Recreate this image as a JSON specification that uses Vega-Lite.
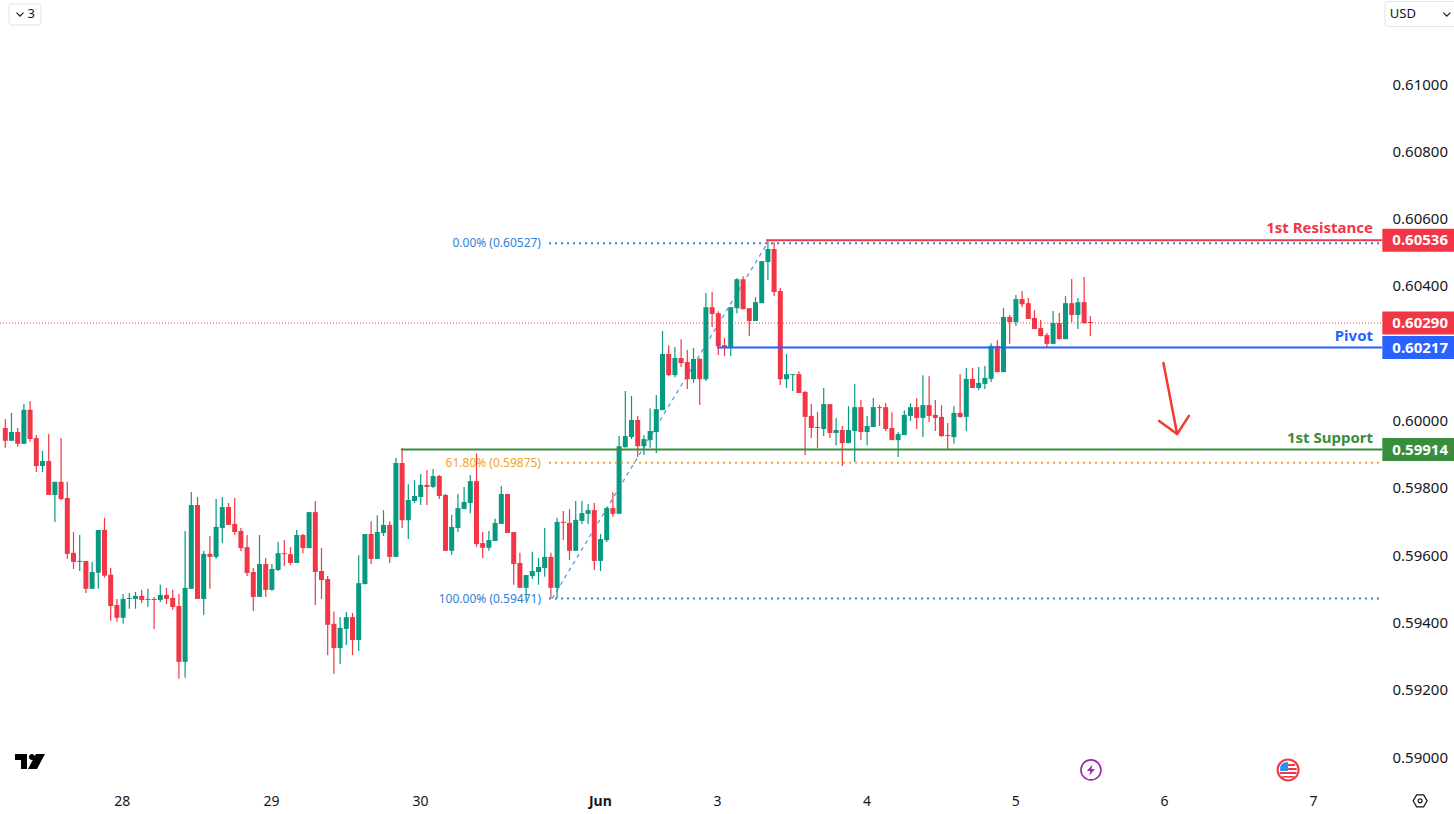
{
  "$schema": "https://vega.github.io/schema/vega-lite/v6.json",
  "width": 1454,
  "height": 814,
  "padding": 0,
  "autosize": {"type": "none"},
  "background": "#ffffff",
  "config": {"view": {"stroke": null}, "font": "Noto Sans"},
  "datasets": {
    "candles": [
      {"bar":0,"open":0.59978,"high":0.60005,"low":0.59919,"close":0.59940},
      {"bar":1,"open":0.59940,"high":0.60023,"low":0.59940,"close":0.59966},
      {"bar":2,"open":0.59966,"high":0.59978,"low":0.59922,"close":0.59931},
      {"bar":3,"open":0.59931,"high":0.60049,"low":0.59931,"close":0.60032},
      {"bar":4,"open":0.60032,"high":0.60058,"low":0.59937,"close":0.59945},
      {"bar":5,"open":0.59948,"high":0.59957,"low":0.59847,"close":0.59865},
      {"bar":6,"open":0.59865,"high":0.59910,"low":0.59847,"close":0.59880},
      {"bar":7,"open":0.59880,"high":0.59960,"low":0.59779,"close":0.59779},
      {"bar":8,"open":0.59779,"high":0.59818,"low":0.59699,"close":0.59818},
      {"bar":9,"open":0.59818,"high":0.59948,"low":0.59764,"close":0.59767},
      {"bar":10,"open":0.59770,"high":0.59818,"low":0.59589,"close":0.59604},
      {"bar":11,"open":0.59607,"high":0.59669,"low":0.59559,"close":0.59580},
      {"bar":12,"open":0.59580,"high":0.59660,"low":0.59553,"close":0.59583},
      {"bar":13,"open":0.59583,"high":0.59583,"low":0.59488,"close":0.59500},
      {"bar":14,"open":0.59500,"high":0.59580,"low":0.59500,"close":0.59550},
      {"bar":15,"open":0.59548,"high":0.59675,"low":0.59500,"close":0.59675},
      {"bar":16,"open":0.59675,"high":0.59711,"low":0.59533,"close":0.59539},
      {"bar":17,"open":0.59542,"high":0.59562,"low":0.59405,"close":0.59449},
      {"bar":18,"open":0.59452,"high":0.59470,"low":0.59402,"close":0.59414},
      {"bar":19,"open":0.59414,"high":0.59485,"low":0.59396,"close":0.59470},
      {"bar":20,"open":0.59470,"high":0.59488,"low":0.59441,"close":0.59473},
      {"bar":21,"open":0.59470,"high":0.59491,"low":0.59441,"close":0.59479},
      {"bar":22,"open":0.59479,"high":0.59497,"low":0.59458,"close":0.59467},
      {"bar":23,"open":0.59467,"high":0.59500,"low":0.59447,"close":0.59470},
      {"bar":24,"open":0.59470,"high":0.59476,"low":0.59381,"close":0.59467},
      {"bar":25,"open":0.59467,"high":0.59512,"low":0.59461,"close":0.59482},
      {"bar":26,"open":0.59482,"high":0.59503,"low":0.59455,"close":0.59470},
      {"bar":27,"open":0.59473,"high":0.59497,"low":0.59438,"close":0.59446},
      {"bar":28,"open":0.59449,"high":0.59485,"low":0.59233,"close":0.59283},
      {"bar":29,"open":0.59283,"high":0.59672,"low":0.59236,"close":0.59503},
      {"bar":30,"open":0.59500,"high":0.59788,"low":0.59500,"close":0.59749},
      {"bar":31,"open":0.59749,"high":0.59773,"low":0.59470,"close":0.59470},
      {"bar":32,"open":0.59470,"high":0.59613,"low":0.59423,"close":0.59604},
      {"bar":33,"open":0.59604,"high":0.59657,"low":0.59500,"close":0.59595},
      {"bar":34,"open":0.59595,"high":0.59767,"low":0.59589,"close":0.59684},
      {"bar":35,"open":0.59681,"high":0.59773,"low":0.59636,"close":0.59743},
      {"bar":36,"open":0.59743,"high":0.59755,"low":0.59690,"close":0.59690},
      {"bar":37,"open":0.59693,"high":0.59770,"low":0.59660,"close":0.59669},
      {"bar":38,"open":0.59672,"high":0.59681,"low":0.59612,"close":0.59621},
      {"bar":39,"open":0.59624,"high":0.59660,"low":0.59538,"close":0.59547},
      {"bar":40,"open":0.59550,"high":0.59562,"low":0.59434,"close":0.59476},
      {"bar":41,"open":0.59476,"high":0.59660,"low":0.59476,"close":0.59574},
      {"bar":42,"open":0.59574,"high":0.59592,"low":0.59476,"close":0.59497},
      {"bar":43,"open":0.59497,"high":0.59574,"low":0.59494,"close":0.59559},
      {"bar":44,"open":0.59556,"high":0.59639,"low":0.59553,"close":0.59606},
      {"bar":45,"open":0.59606,"high":0.59645,"low":0.59568,"close":0.59603},
      {"bar":46,"open":0.59603,"high":0.59624,"low":0.59571,"close":0.59577},
      {"bar":47,"open":0.59577,"high":0.59675,"low":0.59577,"close":0.59660},
      {"bar":48,"open":0.59660,"high":0.59663,"low":0.59606,"close":0.59621},
      {"bar":49,"open":0.59621,"high":0.59728,"low":0.59621,"close":0.59728},
      {"bar":50,"open":0.59728,"high":0.59761,"low":0.59452,"close":0.59550},
      {"bar":51,"open":0.59553,"high":0.59621,"low":0.59470,"close":0.59526},
      {"bar":52,"open":0.59529,"high":0.59538,"low":0.59303,"close":0.59393},
      {"bar":53,"open":0.59396,"high":0.59433,"low":0.59247,"close":0.59324},
      {"bar":54,"open":0.59324,"high":0.59416,"low":0.59277,"close":0.59384},
      {"bar":55,"open":0.59381,"high":0.59431,"low":0.59333,"close":0.59416},
      {"bar":56,"open":0.59416,"high":0.59428,"low":0.59303,"close":0.59348},
      {"bar":57,"open":0.59348,"high":0.59600,"low":0.59315,"close":0.59517},
      {"bar":58,"open":0.59514,"high":0.59663,"low":0.59514,"close":0.59663},
      {"bar":59,"open":0.59663,"high":0.59701,"low":0.59574,"close":0.59589},
      {"bar":60,"open":0.59589,"high":0.59719,"low":0.59589,"close":0.59669},
      {"bar":61,"open":0.59666,"high":0.59734,"low":0.59657,"close":0.59690},
      {"bar":62,"open":0.59690,"high":0.59701,"low":0.59577,"close":0.59595},
      {"bar":63,"open":0.59595,"high":0.59889,"low":0.59595,"close":0.59874},
      {"bar":64,"open":0.59874,"high":0.59918,"low":0.59681,"close":0.59704},
      {"bar":65,"open":0.59704,"high":0.59811,"low":0.59648,"close":0.59764},
      {"bar":66,"open":0.59761,"high":0.59823,"low":0.59755,"close":0.59776},
      {"bar":67,"open":0.59773,"high":0.59841,"low":0.59749,"close":0.59809},
      {"bar":68,"open":0.59809,"high":0.59853,"low":0.59749,"close":0.59803},
      {"bar":69,"open":0.59803,"high":0.59856,"low":0.59800,"close":0.59835},
      {"bar":70,"open":0.59835,"high":0.59838,"low":0.59767,"close":0.59776},
      {"bar":71,"open":0.59779,"high":0.59782,"low":0.59613,"close":0.59613},
      {"bar":72,"open":0.59613,"high":0.59720,"low":0.59601,"close":0.59684},
      {"bar":73,"open":0.59681,"high":0.59782,"low":0.59669,"close":0.59740},
      {"bar":74,"open":0.59737,"high":0.59803,"low":0.59737,"close":0.59758},
      {"bar":75,"open":0.59755,"high":0.59838,"low":0.59725,"close":0.59820},
      {"bar":76,"open":0.59820,"high":0.59903,"low":0.59625,"close":0.59633},
      {"bar":77,"open":0.59636,"high":0.59669,"low":0.59592,"close":0.59622},
      {"bar":78,"open":0.59622,"high":0.59672,"low":0.59613,"close":0.59645},
      {"bar":79,"open":0.59642,"high":0.59708,"low":0.59642,"close":0.59696},
      {"bar":80,"open":0.59693,"high":0.59806,"low":0.59693,"close":0.59782},
      {"bar":81,"open":0.59782,"high":0.59782,"low":0.59666,"close":0.59666},
      {"bar":82,"open":0.59669,"high":0.59669,"low":0.59512,"close":0.59574},
      {"bar":83,"open":0.59577,"high":0.59607,"low":0.59503,"close":0.59503},
      {"bar":84,"open":0.59503,"high":0.59541,"low":0.59464,"close":0.59541},
      {"bar":85,"open":0.59538,"high":0.59610,"low":0.59529,"close":0.59553},
      {"bar":86,"open":0.59550,"high":0.59592,"low":0.59512,"close":0.59565},
      {"bar":87,"open":0.59562,"high":0.59681,"low":0.59536,"close":0.59595},
      {"bar":88,"open":0.59595,"high":0.59607,"low":0.59472,"close":0.59503},
      {"bar":89,"open":0.59503,"high":0.59711,"low":0.59472,"close":0.59699},
      {"bar":90,"open":0.59699,"high":0.59731,"low":0.59645,"close":0.59696},
      {"bar":91,"open":0.59696,"high":0.59737,"low":0.59586,"close":0.59613},
      {"bar":92,"open":0.59613,"high":0.59761,"low":0.59613,"close":0.59705},
      {"bar":93,"open":0.59702,"high":0.59761,"low":0.59693,"close":0.59725},
      {"bar":94,"open":0.59723,"high":0.59752,"low":0.59693,"close":0.59734},
      {"bar":95,"open":0.59734,"high":0.59755,"low":0.59556,"close":0.59583},
      {"bar":96,"open":0.59583,"high":0.59663,"low":0.59553,"close":0.59648},
      {"bar":97,"open":0.59645,"high":0.59743,"low":0.59639,"close":0.59740},
      {"bar":98,"open":0.59740,"high":0.59788,"low":0.59714,"close":0.59723},
      {"bar":99,"open":0.59723,"high":0.59954,"low":0.59723,"close":0.59924},
      {"bar":100,"open":0.59921,"high":0.60088,"low":0.59919,"close":0.59954},
      {"bar":101,"open":0.59951,"high":0.60073,"low":0.59945,"close":0.60002},
      {"bar":102,"open":0.60002,"high":0.60014,"low":0.59892,"close":0.59924},
      {"bar":103,"open":0.59924,"high":0.59957,"low":0.59898,"close":0.59945},
      {"bar":104,"open":0.59942,"high":0.60037,"low":0.59919,"close":0.59969},
      {"bar":105,"open":0.59966,"high":0.60076,"low":0.59904,"close":0.60034},
      {"bar":106,"open":0.60031,"high":0.60266,"low":0.60031,"close":0.60198},
      {"bar":107,"open":0.60198,"high":0.60224,"low":0.60132,"close":0.60135},
      {"bar":108,"open":0.60135,"high":0.60219,"low":0.60129,"close":0.60186},
      {"bar":109,"open":0.60186,"high":0.60242,"low":0.60159,"close":0.60171},
      {"bar":110,"open":0.60174,"high":0.60210,"low":0.60094,"close":0.60123},
      {"bar":111,"open":0.60123,"high":0.60216,"low":0.60112,"close":0.60183},
      {"bar":112,"open":0.60183,"high":0.60186,"low":0.60046,"close":0.60123},
      {"bar":113,"open":0.60123,"high":0.60379,"low":0.60118,"close":0.60337},
      {"bar":114,"open":0.60337,"high":0.60382,"low":0.60278,"close":0.60317},
      {"bar":115,"open":0.60319,"high":0.60325,"low":0.60195,"close":0.60221},
      {"bar":116,"open":0.60224,"high":0.60245,"low":0.60192,"close":0.60218},
      {"bar":117,"open":0.60218,"high":0.60337,"low":0.60192,"close":0.60337},
      {"bar":118,"open":0.60334,"high":0.60423,"low":0.60319,"close":0.60420},
      {"bar":119,"open":0.60420,"high":0.60429,"low":0.60331,"close":0.60331},
      {"bar":120,"open":0.60334,"high":0.60334,"low":0.60251,"close":0.60296},
      {"bar":121,"open":0.60296,"high":0.60367,"low":0.60296,"close":0.60352},
      {"bar":122,"open":0.60349,"high":0.60474,"low":0.60349,"close":0.60474},
      {"bar":123,"open":0.60471,"high":0.60536,"low":0.60417,"close":0.60510},
      {"bar":124,"open":0.60510,"high":0.60530,"low":0.60370,"close":0.60382},
      {"bar":125,"open":0.60385,"high":0.60394,"low":0.60106,"close":0.60123},
      {"bar":126,"open":0.60123,"high":0.60198,"low":0.60097,"close":0.60138},
      {"bar":127,"open":0.60135,"high":0.60138,"low":0.60088,"close":0.60138},
      {"bar":128,"open":0.60138,"high":0.60147,"low":0.60082,"close":0.60082},
      {"bar":129,"open":0.60085,"high":0.60088,"low":0.59898,"close":0.60011},
      {"bar":130,"open":0.60014,"high":0.60049,"low":0.59948,"close":0.59978},
      {"bar":131,"open":0.59981,"high":0.60025,"low":0.59919,"close":0.59978},
      {"bar":132,"open":0.59975,"high":0.60097,"low":0.59954,"close":0.60049},
      {"bar":133,"open":0.60049,"high":0.60049,"low":0.59948,"close":0.59963},
      {"bar":134,"open":0.59963,"high":0.60008,"low":0.59927,"close":0.59972},
      {"bar":135,"open":0.59972,"high":0.59984,"low":0.59865,"close":0.59933},
      {"bar":136,"open":0.59933,"high":0.60043,"low":0.59933,"close":0.59972},
      {"bar":137,"open":0.59969,"high":0.60109,"low":0.59877,"close":0.60040},
      {"bar":138,"open":0.60040,"high":0.60061,"low":0.59942,"close":0.59966},
      {"bar":139,"open":0.59966,"high":0.60014,"low":0.59927,"close":0.59984},
      {"bar":140,"open":0.59981,"high":0.60067,"low":0.59981,"close":0.60040},
      {"bar":141,"open":0.60040,"high":0.60046,"low":0.59984,"close":0.60037},
      {"bar":142,"open":0.60040,"high":0.60052,"low":0.59969,"close":0.59975},
      {"bar":143,"open":0.59978,"high":0.60025,"low":0.59942,"close":0.59942},
      {"bar":144,"open":0.59942,"high":0.59966,"low":0.59892,"close":0.59960},
      {"bar":145,"open":0.59957,"high":0.60031,"low":0.59957,"close":0.60017},
      {"bar":146,"open":0.60014,"high":0.60052,"low":0.59999,"close":0.60040},
      {"bar":147,"open":0.60040,"high":0.60067,"low":0.59975,"close":0.60008},
      {"bar":148,"open":0.60008,"high":0.60135,"low":0.59951,"close":0.60046},
      {"bar":149,"open":0.60046,"high":0.60132,"low":0.59996,"close":0.60014},
      {"bar":150,"open":0.60017,"high":0.60061,"low":0.59969,"close":0.60008},
      {"bar":151,"open":0.60011,"high":0.60046,"low":0.59951,"close":0.59954},
      {"bar":152,"open":0.59957,"high":0.59993,"low":0.59913,"close":0.59954},
      {"bar":153,"open":0.59951,"high":0.60043,"low":0.59931,"close":0.60023},
      {"bar":154,"open":0.60023,"high":0.60138,"low":0.60008,"close":0.60011},
      {"bar":155,"open":0.60011,"high":0.60156,"low":0.59969,"close":0.60124},
      {"bar":156,"open":0.60124,"high":0.60156,"low":0.60097,"close":0.60097},
      {"bar":157,"open":0.60097,"high":0.60159,"low":0.60091,"close":0.60112},
      {"bar":158,"open":0.60109,"high":0.60162,"low":0.60094,"close":0.60127},
      {"bar":159,"open":0.60124,"high":0.60230,"low":0.60115,"close":0.60222},
      {"bar":160,"open":0.60222,"high":0.60239,"low":0.60144,"close":0.60144},
      {"bar":161,"open":0.60144,"high":0.60334,"low":0.60144,"close":0.60308},
      {"bar":162,"open":0.60308,"high":0.60314,"low":0.60228,"close":0.60293},
      {"bar":163,"open":0.60293,"high":0.60373,"low":0.60281,"close":0.60361},
      {"bar":164,"open":0.60361,"high":0.60385,"low":0.60337,"close":0.60346},
      {"bar":165,"open":0.60349,"high":0.60364,"low":0.60302,"close":0.60302},
      {"bar":166,"open":0.60305,"high":0.60328,"low":0.60272,"close":0.60272},
      {"bar":167,"open":0.60275,"high":0.60299,"low":0.60251,"close":0.60251},
      {"bar":168,"open":0.60254,"high":0.60260,"low":0.60216,"close":0.60228},
      {"bar":169,"open":0.60228,"high":0.60326,"low":0.60228,"close":0.60290},
      {"bar":170,"open":0.60290,"high":0.60320,"low":0.60242,"close":0.60242},
      {"bar":171,"open":0.60242,"high":0.60370,"low":0.60242,"close":0.60349},
      {"bar":172,"open":0.60349,"high":0.60421,"low":0.60293,"close":0.60314},
      {"bar":173,"open":0.60314,"high":0.60364,"low":0.60272,"close":0.60352},
      {"bar":174,"open":0.60352,"high":0.60427,"low":0.60287,"close":0.60290},
      {"bar":175,"open":0.60293,"high":0.60311,"low":0.60251,"close":0.60290}
    ],
    "levels": [
      {"name":"1st Resistance","bar":122.7,"end":222.1,"price":0.60536},
      {"name":"Pivot","bar":114.8,"end":222.1,"price":0.60217},
      {"name":"1st Support","bar":63.8,"end":222.1,"price":0.59914}
    ],
    "levelLabels": [
      {"name":"1st Resistance","bar":220.6,"price":0.60536},
      {"name":"Pivot","bar":220.6,"price":0.60217},
      {"name":"1st Support","bar":220.6,"price":0.59914}
    ],
    "tags": [
      {"name":"1st Resistance","bar":222.1,"end":233.7,"price":0.60536},
      {"name":"Last","bar":222.1,"end":233.7,"price":0.60290},
      {"name":"Pivot","bar":222.1,"end":233.7,"price":0.60217},
      {"name":"1st Support","bar":222.1,"end":233.7,"price":0.59914}
    ],
    "fibs": [
      {"name":"0.00%","bar":87.7,"end":222.1,"price":0.60527},
      {"name":"61.80%","bar":87.7,"end":222.1,"price":0.59875},
      {"name":"100.00%","bar":87.7,"end":222.1,"price":0.59471}
    ],
    "fibLabels": [
      {"name":"0.00%","label":"0.00% (0.60527)","bar":86.4,"price":0.60527},
      {"name":"61.80%","label":"61.80% (0.59875)","bar":86.4,"price":0.59875},
      {"name":"100.00%","label":"100.00% (0.59471)","bar":86.4,"price":0.59471}
    ],
    "arrow": [
      {"part":"shaft","step":1,"bar":186.8,"price":0.60171},
      {"part":"shaft","step":2,"bar":189.0,"price":0.59960},
      {"part":"head","step":1,"bar":186.1,"price":0.59999},
      {"part":"head","step":2,"bar":189.0,"price":0.59960},
      {"part":"head","step":3,"bar":190.9,"price":0.60014}
    ]
  },
  "encoding": {
    "x": {
      "field": "bar",
      "type": "quantitative",
      "title": null,
      "scale": {"domain": [-0.855, 233.66], "nice": false, "zero": false, "padding": 0},
      "axis": {
        "orient": "bottom",
        "domain": false,
        "ticks": false,
        "grid": false,
        "values": [18.8, 42.85, 66.9, 95.9, 114.8, 138.9, 162.9, 186.9, 210.9],
        "labelExpr": "['28','29','30','Jun','3','4','5','6','7'][indexof([18.8,42.85,66.9,95.9,114.8,138.9,162.9,186.9,210.9],datum.value)]",
        "labelFontWeight": {"condition": {"test": "datum.value == 95.9", "value": "bold"}, "value": "normal"},
        "labelPadding": -13,
        "labelBaseline": "middle",
        "labelFontSize": 14,
        "labelColor": "#131722",
        "labelFont": "Noto Sans",
        "labelOverlap": false,
        "labelFlush": false,
        "labelBound": false
      }
    },
    "y": {
      "field": "price",
      "type": "quantitative",
      "title": null,
      "scale": {"domain": [0.588309, 0.612499], "nice": false, "zero": false},
      "axis": {
        "orient": "right",
        "domain": false,
        "ticks": false,
        "grid": false,
        "values": [0.59, 0.592, 0.594, 0.596, 0.598, 0.6, 0.604, 0.606, 0.608, 0.61],
        "format": ".5f",
        "labelAlign": "left",
        "labelPadding": -62,
        "labelFontSize": 15,
        "labelColor": "#131722",
        "labelFont": "Noto Sans",
        "labelOverlap": false,
        "labelFlush": false,
        "labelBound": false
      }
    }
  },
  "layer": [
    {
      "data": {"values": [{"bar": 88.2, "price": 0.59471}, {"bar": 122.9, "price": 0.60527}]},
      "mark": {"type": "line", "color": "#5b9be0", "strokeWidth": 1.3, "strokeDash": [4, 4]}
    },
    {
      "data": {"name": "candles"},
      "mark": {"type": "rule", "strokeWidth": 1.2},
      "encoding": {
        "y": {"field": "low", "type": "quantitative", "title": null, "scale": {"domain": [0.588309, 0.612499], "nice": false, "zero": false}},
        "y2": {"field": "high"},
        "color": {"condition": {"test": "datum.close >= datum.open", "value": "#089981"}, "value": "#f23645"}
      }
    },
    {
      "data": {"name": "candles"},
      "mark": {"type": "bar", "orient": "vertical", "size": 5},
      "encoding": {
        "y": {"field": "open", "type": "quantitative", "title": null, "scale": {"domain": [0.588309, 0.612499], "nice": false, "zero": false}},
        "y2": {"field": "close"},
        "color": {"condition": {"test": "datum.close >= datum.open", "value": "#089981"}, "value": "#f23645"}
      }
    },
    {
      "data": {"values": [{"bar": -0.855, "end": 222.1, "price": 0.6029}]},
      "mark": {"type": "rule", "color": "#f23645", "strokeWidth": 1, "strokeDash": [1, 2]},
      "encoding": {"x2": {"field": "end"}}
    },
    {
      "data": {"name": "fibs"},
      "mark": {"type": "rule", "strokeWidth": 2, "strokeDash": [2, 4]},
      "encoding": {
        "x2": {"field": "end"},
        "color": {"field": "name", "type": "nominal", "legend": null, "scale": {"domain": ["1st Resistance", "Last", "Pivot", "1st Support", "0.00%", "61.80%", "100.00%"], "range": ["#f23645", "#f23645", "#2962ff", "#388e3c", "#2f80d8", "#eda621", "#2f80d8"]}}
      }
    },
    {
      "data": {"name": "fibLabels"},
      "mark": {"type": "text", "align": "right", "baseline": "middle", "fontSize": 12, "font": "Noto Sans"},
      "encoding": {
        "text": {"field": "label"},
        "color": {"field": "name", "type": "nominal", "legend": null, "scale": {"domain": ["1st Resistance", "Last", "Pivot", "1st Support", "0.00%", "61.80%", "100.00%"], "range": ["#f23645", "#f23645", "#2962ff", "#388e3c", "#2f80d8", "#eda621", "#2f80d8"]}}
      }
    },
    {
      "data": {"name": "levels"},
      "mark": {"type": "rule", "strokeWidth": 2},
      "encoding": {
        "x2": {"field": "end"},
        "color": {"field": "name", "type": "nominal", "legend": null, "scale": {"domain": ["1st Resistance", "Last", "Pivot", "1st Support", "0.00%", "61.80%", "100.00%"], "range": ["#f23645", "#f23645", "#2962ff", "#388e3c", "#2f80d8", "#eda621", "#2f80d8"]}}
      }
    },
    {
      "data": {"name": "levelLabels"},
      "mark": {"type": "text", "align": "right", "baseline": "middle", "dy": -12, "fontSize": 15, "fontWeight": "bold", "font": "Noto Sans"},
      "encoding": {
        "text": {"field": "name"},
        "color": {"field": "name", "type": "nominal", "legend": null, "scale": {"domain": ["1st Resistance", "Last", "Pivot", "1st Support", "0.00%", "61.80%", "100.00%"], "range": ["#f23645", "#f23645", "#2962ff", "#388e3c", "#2f80d8", "#eda621", "#2f80d8"]}}
      }
    },
    {
      "data": {"name": "tags"},
      "mark": {"type": "rule", "strokeWidth": 23},
      "encoding": {
        "x2": {"field": "end"},
        "color": {"field": "name", "type": "nominal", "legend": null, "scale": {"domain": ["1st Resistance", "Last", "Pivot", "1st Support", "0.00%", "61.80%", "100.00%"], "range": ["#f23645", "#f23645", "#2962ff", "#388e3c", "#2f80d8", "#eda621", "#2f80d8"]}}
      }
    },
    {
      "data": {"name": "tags"},
      "mark": {"type": "text", "align": "left", "baseline": "middle", "dx": 10, "fontSize": 15, "fontWeight": "bold", "font": "Noto Sans", "color": "#ffffff"},
      "encoding": {"text": {"field": "price", "type": "quantitative", "format": ".5f"}}
    },
    {
      "data": {"name": "arrow"},
      "mark": {"type": "line", "color": "#f5392e", "strokeWidth": 2.5, "strokeCap": "round", "strokeJoin": "round"},
      "encoding": {"detail": {"field": "part"}, "order": {"field": "step"}}
    },
    {
      "data": {"values": [{"bar": 3.98, "price": 0.58987}]},
      "mark": {"type": "point", "filled": true, "opacity": 1, "size": 4, "color": "#000000", "shape": "M-15,-7.5H-3V7.5H-9V-1.5H-15Z M5,-4.5A3,3 0 1,1 -1,-4.5A3,3 0 1,1 5,-4.5Z M6,-7.5H15L7,7.5H-2Z"}
    },
    {
      "data": {"values": [{"bar": 175.1, "price": 0.58962}]},
      "mark": {"type": "point", "filled": false, "opacity": 1, "size": 4, "color": "#9c27b0", "strokeWidth": 1.6, "shape": "M10,0A10,10 0 1,1 -10,0A10,10 0 1,1 10,0Z"}
    },
    {
      "data": {"values": [{"bar": 175.1, "price": 0.58962}]},
      "mark": {"type": "point", "filled": true, "opacity": 1, "size": 4, "color": "#9c27b0", "shape": "M1.5,-5.5L-4,1H-0.5L-1.5,5.5L4,-1H0.5Z"}
    },
    {
      "data": {"values": [{"bar": 206.9, "price": 0.58962}]},
      "mark": {"type": "point", "filled": false, "opacity": 1, "size": 4, "color": "#f23645", "strokeWidth": 2, "shape": "M10.5,0A10.5,10.5 0 1,1 -10.5,0A10.5,10.5 0 1,1 10.5,0Z"}
    },
    {
      "data": {"values": [{"bar": 206.9, "price": 0.58962}]},
      "mark": {"type": "point", "filled": true, "opacity": 1, "size": 4, "color": "#f23645", "shape": "M0,-6H7V-4H0Z M0,-2H8.5V0H0Z M-8.5,2H8.5V4H-8.5Z M-6,6H6V7.5H-6Z"}
    },
    {
      "data": {"values": [{"bar": 206.9, "price": 0.58962}]},
      "mark": {"type": "point", "filled": true, "opacity": 1, "size": 4, "color": "#2196f3", "shape": "M-8,-1V-3Q-6,-8 0,-8V1H-8Z"}
    },
    {
      "data": {"values": [{"bar": 228.2, "price": 0.5887}]},
      "mark": {"type": "point", "filled": false, "opacity": 1, "size": 4, "color": "#131722", "strokeWidth": 1.2, "shape": "M-7,0L-3.5,-6H3.5L7,0L3.5,6H-3.5Z M2,0A2,2 0 1,1 -2,0A2,2 0 1,1 2,0Z"}
    },
    {
      "data": {"values": [{"bar": 3.18, "price": 0.61207}]},
      "mark": {"type": "point", "filled": false, "opacity": 1, "size": 4, "color": "#e0e3eb", "strokeWidth": 1, "shape": "M-13,-10.5H13Q16,-10.5 16,-7.5V7.5Q16,10.5 13,10.5H-13Q-16,10.5 -16,7.5V-7.5Q-16,-10.5 -13,-10.5Z"}
    },
    {
      "data": {"values": [{"bar": 228.5, "price": 0.61208}]},
      "mark": {"type": "point", "filled": false, "opacity": 1, "size": 4, "color": "#e0e3eb", "strokeWidth": 1, "shape": "M-34,-12.5H34Q37,-12.5 37,-9.5V9.5Q37,12.5 34,12.5H-34Q-37,12.5 -37,9.5V-9.5Q-37,-12.5 -34,-12.5Z"}
    },
    {
      "data": {"values": [{"bar": 2.37, "price": 0.61208}, {"bar": 232.5, "price": 0.61208}]},
      "mark": {"type": "point", "filled": false, "opacity": 1, "size": 4, "color": "#131722", "strokeWidth": 1.2, "shape": "M-3.5,-1.5L0,2L3.5,-1.5"}
    },
    {
      "data": {"values": [{"bar": 3.6, "price": 0.61208, "label": "3"}, {"bar": 223.3, "price": 0.61208, "label": "USD"}]},
      "mark": {"type": "text", "align": "left", "baseline": "middle", "fontSize": 13, "font": "Noto Sans", "color": "#131722"},
      "encoding": {"text": {"field": "label"}}
    }
  ]
}
